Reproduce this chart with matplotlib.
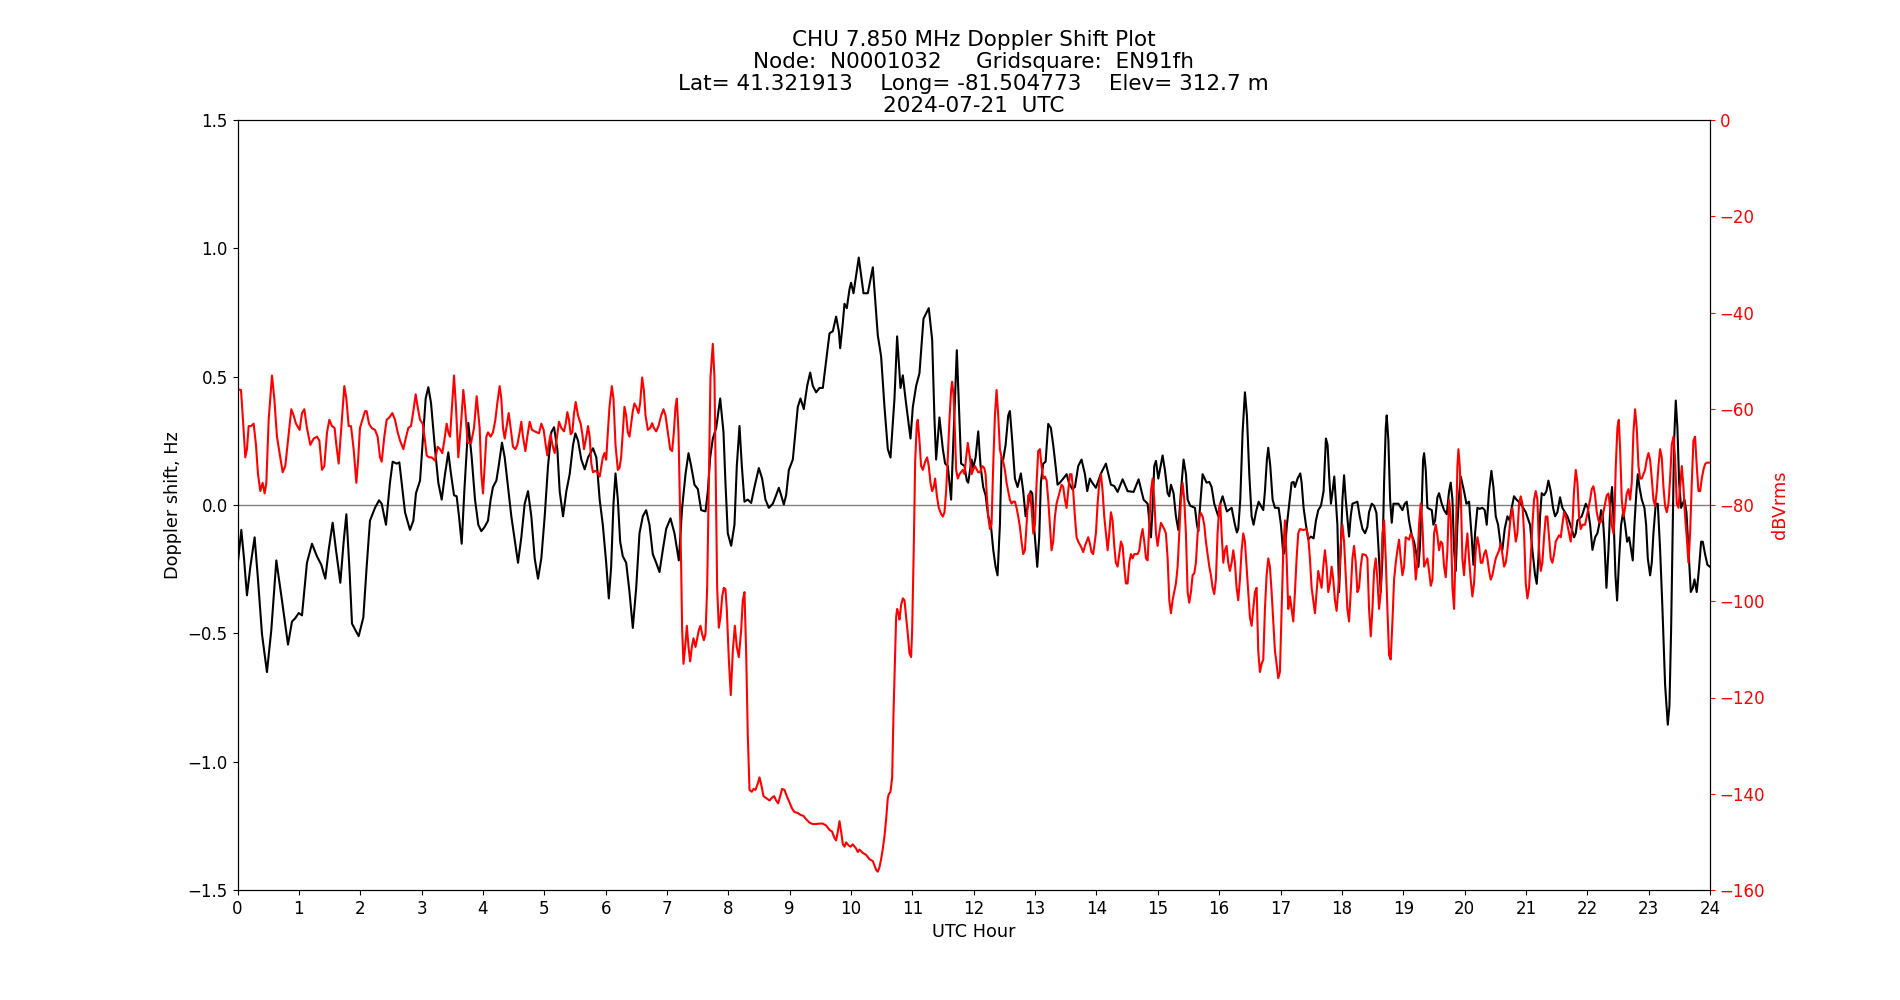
import matplotlib
matplotlib.use("Agg")
import matplotlib.pyplot as plt

# Doppler shift (Hz) vs UTC hour
doppler_hours = [
    0.0, 0.062, 0.106, 0.154, 0.209, 0.279, 0.334, 0.399, 0.480, 0.551, 0.633, 0.725, 0.823, 0.888, 0.942, 0.997,
    1.051, 1.132, 1.214, 1.295, 1.366, 1.431, 1.486, 1.551, 1.605, 1.676, 1.730, 1.774, 1.823, 1.866, 1.920, 1.975,
    2.051, 2.105, 2.159, 2.241, 2.306, 2.350, 2.420, 2.485, 2.529, 2.594, 2.638, 2.676, 2.730, 2.811, 2.866, 2.909,
    2.975, 3.029, 3.067, 3.110, 3.154, 3.219, 3.273, 3.328, 3.382, 3.436, 3.480, 3.529, 3.572, 3.610, 3.654, 3.697,
    3.762, 3.817, 3.871, 3.925, 3.974, 4.029, 4.083, 4.126, 4.164, 4.219, 4.257, 4.311, 4.355, 4.409, 4.463, 4.518,
    4.572, 4.626, 4.681, 4.735, 4.789, 4.844, 4.898, 4.952, 5.007, 5.061, 5.115, 5.159, 5.213, 5.251, 5.306, 5.360,
    5.414, 5.469, 5.507, 5.550, 5.604, 5.659, 5.713, 5.794, 5.849, 5.903, 5.954, 6.009, 6.052, 6.090, 6.128, 6.161,
    6.199, 6.237, 6.280, 6.335, 6.389, 6.443, 6.498, 6.552, 6.606, 6.661, 6.715, 6.769, 6.824, 6.878, 6.932, 6.987,
    7.057, 7.122, 7.193, 7.247, 7.302, 7.351, 7.394, 7.448, 7.503, 7.557, 7.628, 7.666, 7.704, 7.747, 7.802, 7.867,
    7.921, 7.953, 7.991, 8.046, 8.100, 8.138, 8.182, 8.220, 8.263, 8.317, 8.372, 8.426, 8.497, 8.551, 8.605, 8.660,
    8.725, 8.779, 8.823, 8.861, 8.904, 8.942, 8.986, 9.051, 9.094, 9.132, 9.176, 9.230, 9.285, 9.334, 9.377, 9.431,
    9.486, 9.540, 9.594, 9.649, 9.703, 9.757, 9.801, 9.823, 9.866, 9.893, 9.931, 9.975, 10.001, 10.040, 10.126, 10.203,
    10.273, 10.355, 10.436, 10.490, 10.545, 10.599, 10.643, 10.708, 10.751, 10.806, 10.844, 10.887, 10.969, 11.007, 11.061, 11.115,
    11.181, 11.267, 11.322, 11.360, 11.387, 11.441, 11.496, 11.534, 11.577, 11.631, 11.724, 11.767, 11.794, 11.849, 11.887, 11.910,
    11.964, 11.991, 12.030, 12.073, 12.111, 12.154, 12.193, 12.236, 12.279, 12.318, 12.356, 12.388, 12.426, 12.453, 12.480, 12.519,
    12.562, 12.589, 12.627, 12.671, 12.714, 12.768, 12.806, 12.845, 12.888, 12.926, 12.953, 12.986, 13.035, 13.067, 13.094, 13.132,
    13.171, 13.214, 13.257, 13.295, 13.334, 13.366, 13.404, 13.459, 13.513, 13.551, 13.605, 13.649, 13.703, 13.757, 13.812, 13.850,
    13.893, 13.931, 13.991, 14.073, 14.154, 14.236, 14.290, 14.345, 14.426, 14.508, 14.605, 14.687, 14.768, 14.834, 14.861, 14.888,
    14.915, 14.942, 14.970, 15.008, 15.078, 15.116, 15.160, 15.187, 15.214, 15.257, 15.295, 15.334, 15.377, 15.420, 15.459, 15.486,
    15.529, 15.605, 15.638, 15.660, 15.692, 15.730, 15.795, 15.839, 15.877, 15.920, 15.985, 16.018, 16.056, 16.126, 16.203, 16.257,
    16.289, 16.311, 16.344, 16.382, 16.420, 16.452, 16.491, 16.529, 16.561, 16.599, 16.643, 16.719, 16.746, 16.778, 16.800, 16.833,
    16.871, 16.909, 16.969, 17.007, 17.045, 17.072, 17.104, 17.142, 17.181, 17.213, 17.235, 17.278, 17.322, 17.344, 17.376, 17.414,
    17.452, 17.496, 17.539, 17.577, 17.615, 17.659, 17.702, 17.740, 17.767, 17.795, 17.822, 17.849, 17.876, 17.927, 17.954, 17.981,
    18.009, 18.036, 18.063, 18.117, 18.144, 18.172, 18.253, 18.291, 18.335, 18.378, 18.416, 18.443, 18.487, 18.525, 18.563, 18.595,
    18.633, 18.661, 18.688, 18.715, 18.731, 18.758, 18.786, 18.813, 18.840, 18.921, 18.987, 19.025, 19.057, 19.095, 19.139, 19.177,
    19.215, 19.247, 19.269, 19.302, 19.324, 19.340, 19.367, 19.394, 19.465, 19.492, 19.519, 19.557, 19.584, 19.628, 19.666, 19.709,
    19.747, 19.774, 19.802, 19.829, 19.856, 19.883, 19.910, 19.937, 19.991, 20.030, 20.073, 20.116, 20.144, 20.171, 20.209, 20.247,
    20.290, 20.328, 20.361, 20.399, 20.437, 20.470, 20.508, 20.546, 20.589, 20.616, 20.654, 20.698, 20.736, 20.768, 20.806, 20.845,
    20.915, 20.997, 21.067, 21.105, 21.149, 21.176, 21.203, 21.230, 21.257, 21.295, 21.334, 21.366, 21.404, 21.442, 21.475, 21.513,
    21.556, 21.594, 21.676, 21.747, 21.784, 21.812, 21.839, 21.910, 21.975, 22.008, 22.046, 22.084, 22.127, 22.165, 22.193, 22.225,
    22.252, 22.279, 22.312, 22.345, 22.377, 22.404, 22.432, 22.459, 22.486, 22.519, 22.551, 22.584, 22.616, 22.649, 22.682, 22.714,
    22.741, 22.768, 22.801, 22.823, 22.850, 22.888, 22.931, 22.959, 22.986, 23.024, 23.051, 23.078, 23.116, 23.149, 23.187, 23.225,
    23.268, 23.312, 23.339, 23.366, 23.393, 23.415, 23.442, 23.469, 23.497, 23.529, 23.556, 23.583, 23.616, 23.649, 23.687, 23.720,
    23.747, 23.784, 23.823, 23.855, 23.882, 23.920, 23.958, 24.0,
]
doppler_hz = [
    -0.24, -0.097, -0.208, -0.352, -0.241, -0.126, -0.290, -0.503, -0.651, -0.487, -0.216, -0.372, -0.544, -0.454, -0.441, -0.421,
    -0.430, -0.225, -0.151, -0.200, -0.233, -0.287, -0.175, -0.069, -0.175, -0.303, -0.143, -0.036, -0.241, -0.462, -0.487, -0.511,
    -0.438, -0.241, -0.061, -0.011, 0.018, 0.005, -0.077, 0.087, 0.169, 0.161, 0.166, 0.087, -0.028, -0.097, -0.061, 0.046,
    0.095, 0.284, 0.415, 0.459, 0.398, 0.218, 0.087, 0.021, 0.120, 0.205, 0.120, 0.038, 0.034, -0.044, -0.151, 0.054,
    0.320, 0.185, 0.021, -0.077, -0.102, -0.085, -0.061, 0.021, 0.070, 0.095, 0.152, 0.243, 0.185, 0.070, -0.044, -0.134,
    -0.225, -0.126, 0.005, 0.054, -0.044, -0.208, -0.287, -0.208, -0.044, 0.152, 0.284, 0.303, 0.218, 0.054, -0.044, 0.054,
    0.120, 0.234, 0.279, 0.251, 0.177, 0.139, 0.185, 0.221, 0.185, 0.021, -0.077, -0.225, -0.364, -0.241, 0.005, 0.123,
    0.021, -0.143, -0.200, -0.225, -0.339, -0.479, -0.323, -0.110, -0.044, -0.020, -0.077, -0.192, -0.225, -0.261, -0.175, -0.093,
    -0.052, -0.110, -0.216, -0.011, 0.120, 0.202, 0.152, 0.079, 0.062, -0.020, -0.025, 0.054, 0.185, 0.259, 0.300, 0.415,
    0.284, 0.087, -0.110, -0.159, -0.077, 0.152, 0.308, 0.152, 0.013, 0.021, 0.008, 0.070, 0.144, 0.103, 0.021, -0.011,
    0.005, 0.038, 0.067, 0.038, 0.002, 0.038, 0.136, 0.177, 0.284, 0.382, 0.415, 0.374, 0.464, 0.516, 0.464, 0.439,
    0.456, 0.456, 0.562, 0.669, 0.677, 0.734, 0.677, 0.611, 0.710, 0.784, 0.767, 0.841, 0.866, 0.825, 0.964, 0.825,
    0.825, 0.926, 0.661, 0.579, 0.382, 0.218, 0.185, 0.415, 0.657, 0.456, 0.505, 0.415, 0.259, 0.382, 0.464, 0.513,
    0.726, 0.767, 0.644, 0.333, 0.177, 0.341, 0.218, 0.161, 0.152, 0.021, 0.603, 0.333, 0.161, 0.152, 0.095, 0.087,
    0.177, 0.144, 0.185, 0.287, 0.152, 0.070, 0.038, -0.044, -0.077, -0.175, -0.241, -0.274, -0.077, 0.185, 0.177, 0.234,
    0.349, 0.366, 0.251, 0.103, 0.070, 0.123, 0.054, -0.044, 0.005, 0.054, 0.046, -0.093, -0.241, -0.126, 0.087, 0.161,
    0.169, 0.316, 0.300, 0.234, 0.152, 0.079, 0.087, 0.103, 0.120, 0.087, 0.062, 0.070, 0.152, 0.177, 0.120, 0.054,
    0.103, 0.087, 0.067, 0.123, 0.161, 0.079, 0.074, 0.051, 0.100, 0.054, 0.051, 0.100, 0.021, 0.005, -0.061, -0.126,
    -0.011, 0.152, 0.172, 0.103, 0.193, 0.136, 0.046, 0.034, 0.079, 0.046, -0.044, -0.097, 0.054, 0.177, 0.120, 0.021,
    -0.003, -0.011, -0.077, -0.102, 0.005, 0.120, 0.087, 0.090, 0.070, 0.005, -0.044, 0.005, 0.034, -0.025, -0.011, -0.077,
    -0.107, -0.093, 0.021, 0.284, 0.439, 0.349, 0.120, -0.044, -0.077, -0.028, 0.013, -0.020, 0.054, 0.177, 0.223, 0.152,
    0.021, -0.011, -0.011, -0.077, -0.192, -0.175, -0.077, 0.005, 0.087, 0.090, 0.070, 0.103, 0.123, 0.087, -0.011, -0.077,
    -0.134, -0.123, -0.130, -0.061, -0.020, -0.003, 0.054, 0.259, 0.234, 0.103, 0.005, 0.054, 0.111, -0.077, -0.339, -0.175,
    0.021, 0.116, 0.021, -0.123, -0.044, 0.005, 0.013, -0.044, -0.093, -0.110, -0.085, -0.028, 0.005, -0.003, -0.031, -0.159,
    -0.339, -0.208, 0.087, 0.300, 0.349, 0.251, 0.021, -0.069, 0.005, 0.005, -0.020, 0.005, 0.013, -0.061, -0.118, -0.143,
    -0.192, -0.241, -0.175, 0.005, 0.177, 0.202, 0.136, -0.011, -0.020, -0.077, -0.061, 0.030, 0.046, 0.005, -0.020, -0.036,
    0.054, 0.087, 0.021, -0.175, -0.257, -0.077, 0.038, 0.111, 0.054, 0.005, 0.013, -0.126, -0.233, -0.110, -0.011, -0.015,
    -0.011, -0.020, -0.077, 0.054, 0.133, 0.070, -0.044, -0.077, -0.159, -0.175, -0.093, -0.044, -0.061, -0.011, 0.034, 0.021,
    0.005, -0.028, -0.077, -0.175, -0.274, -0.307, -0.208, -0.044, 0.046, 0.038, 0.054, 0.095, 0.054, -0.011, -0.044, -0.028,
    0.030, -0.011, -0.044, -0.093, -0.126, -0.110, -0.061, -0.044, 0.005, -0.011, -0.077, -0.175, -0.126, -0.110, -0.077, -0.020,
    -0.044, -0.143, -0.323, -0.175, 0.005, 0.070, -0.077, -0.274, -0.372, -0.208, -0.077, -0.028, -0.077, -0.143, -0.126, -0.175,
    -0.216, -0.077, 0.054, 0.120, 0.070, 0.021, -0.011, -0.077, -0.208, -0.274, -0.225, -0.110, 0.005, 0.005, -0.175, -0.405,
    -0.700, -0.856, -0.782, -0.487, -0.077, 0.251, 0.407, 0.300, 0.087, -0.011, 0.005, 0.021, -0.028, -0.175, -0.339, -0.323,
    -0.290, -0.339, -0.241, -0.143, -0.143, -0.192, -0.233, -0.241,
]

# received signal level (dBVrms) vs UTC hour
power_hours = [
    0.0, 0.057, 0.089, 0.127, 0.154, 0.182, 0.220, 0.263, 0.301, 0.334, 0.372, 0.410, 0.442, 0.470, 0.508, 0.562,
    0.600, 0.643, 0.698, 0.736, 0.779, 0.823, 0.877, 0.915, 0.953, 1.013, 1.051, 1.089, 1.132, 1.187, 1.241, 1.295,
    1.334, 1.377, 1.415, 1.459, 1.497, 1.540, 1.583, 1.611, 1.649, 1.692, 1.741, 1.774, 1.812, 1.850, 1.893, 1.937,
    1.969, 1.996, 2.035, 2.078, 2.105, 2.143, 2.187, 2.241, 2.284, 2.323, 2.350, 2.393, 2.431, 2.475, 2.524, 2.567,
    2.611, 2.649, 2.703, 2.741, 2.784, 2.828, 2.866, 2.904, 2.936, 2.975, 3.018, 3.056, 3.083, 3.121, 3.165, 3.219,
    3.262, 3.300, 3.338, 3.371, 3.409, 3.436, 3.464, 3.491, 3.529, 3.561, 3.599, 3.643, 3.681, 3.708, 3.752, 3.806,
    3.855, 3.898, 3.947, 3.974, 4.001, 4.029, 4.056, 4.083, 4.126, 4.164, 4.203, 4.235, 4.273, 4.300, 4.327, 4.355,
    4.382, 4.420, 4.452, 4.490, 4.529, 4.561, 4.599, 4.626, 4.653, 4.692, 4.724, 4.762, 4.800, 4.844, 4.914, 4.952,
    4.990, 5.023, 5.050, 5.072, 5.104, 5.132, 5.170, 5.208, 5.240, 5.278, 5.322, 5.349, 5.376, 5.403, 5.430, 5.458,
    5.485, 5.512, 5.550, 5.593, 5.621, 5.648, 5.686, 5.713, 5.740, 5.767, 5.794, 5.833, 5.865, 5.903, 5.954, 5.982,
    6.009, 6.036, 6.063, 6.101, 6.128, 6.161, 6.199, 6.226, 6.253, 6.280, 6.307, 6.335, 6.362, 6.389, 6.416, 6.443,
    6.470, 6.498, 6.536, 6.563, 6.595, 6.623, 6.650, 6.688, 6.726, 6.758, 6.786, 6.824, 6.862, 6.905, 6.943, 6.976,
    7.014, 7.052, 7.084, 7.112, 7.139, 7.161, 7.188, 7.204, 7.231, 7.247, 7.269, 7.296, 7.324, 7.351, 7.378, 7.405,
    7.432, 7.465, 7.492, 7.519, 7.546, 7.573, 7.601, 7.628, 7.655, 7.682, 7.709, 7.747, 7.774, 7.796, 7.818, 7.845,
    7.872, 7.900, 7.927, 7.953, 7.975, 8.008, 8.040, 8.073, 8.106, 8.138, 8.171, 8.209, 8.236, 8.263, 8.290, 8.317,
    8.345, 8.383, 8.410, 8.442, 8.480, 8.508, 8.540, 8.573, 8.616, 8.671, 8.714, 8.747, 8.779, 8.812, 8.845, 8.877,
    8.915, 8.953, 8.997, 9.040, 9.078, 9.132, 9.176, 9.225, 9.268, 9.323, 9.377, 9.431, 9.486, 9.540, 9.594, 9.649,
    9.692, 9.730, 9.757, 9.784, 9.812, 9.839, 9.866, 9.893, 9.920, 9.958, 9.991, 10.029, 10.083, 10.110, 10.137, 10.192,
    10.246, 10.300, 10.355, 10.409, 10.436, 10.463, 10.490, 10.518, 10.545, 10.572, 10.599, 10.615, 10.643, 10.670, 10.692, 10.719,
    10.735, 10.751, 10.773, 10.789, 10.817, 10.844, 10.871, 10.898, 10.925, 10.952, 10.979, 10.996, 11.023, 11.045, 11.072, 11.088,
    11.115, 11.142, 11.170, 11.208, 11.240, 11.267, 11.295, 11.322, 11.349, 11.371, 11.398, 11.430, 11.469, 11.496, 11.523, 11.550,
    11.577, 11.604, 11.631, 11.648, 11.670, 11.691, 11.713, 11.740, 11.767, 11.822, 11.849, 11.876, 11.903, 11.937, 11.964, 11.991,
    12.019, 12.073, 12.100, 12.138, 12.171, 12.193, 12.209, 12.236, 12.263, 12.290, 12.317, 12.345, 12.372, 12.399, 12.426, 12.453,
    12.480, 12.508, 12.535, 12.562, 12.589, 12.616, 12.644, 12.671, 12.698, 12.725, 12.752, 12.779, 12.806, 12.834, 12.861, 12.888,
    12.915, 12.942, 12.970, 12.997, 13.024, 13.051, 13.078, 13.105, 13.132, 13.160, 13.187, 13.214, 13.241, 13.268, 13.295, 13.323,
    13.350, 13.377, 13.404, 13.431, 13.458, 13.486, 13.513, 13.540, 13.567, 13.594, 13.621, 13.649, 13.676, 13.703, 13.757, 13.784,
    13.812, 13.866, 13.893, 13.920, 13.947, 13.991, 14.019, 14.046, 14.073, 14.100, 14.127, 14.154, 14.182, 14.209, 14.236, 14.263,
    14.290, 14.317, 14.345, 14.372, 14.399, 14.426, 14.453, 14.480, 14.508, 14.535, 14.562, 14.589, 14.616, 14.671, 14.698, 14.725,
    14.752, 14.779, 14.807, 14.834, 14.861, 14.888, 14.915, 14.942, 14.970, 14.997, 15.024, 15.051, 15.105, 15.132, 15.160, 15.187,
    15.214, 15.241, 15.268, 15.295, 15.323, 15.350, 15.377, 15.404, 15.431, 15.458, 15.486, 15.513, 15.540, 15.567, 15.594, 15.621,
    15.649, 15.676, 15.703, 15.730, 15.757, 15.784, 15.812, 15.839, 15.866, 15.893, 15.920, 15.947, 15.974, 16.001, 16.018, 16.040,
    16.067, 16.094, 16.121, 16.148, 16.175, 16.203, 16.230, 16.257, 16.284, 16.311, 16.338, 16.366, 16.393, 16.420, 16.447, 16.474,
    16.501, 16.529, 16.556, 16.583, 16.610, 16.637, 16.664, 16.692, 16.719, 16.746, 16.773, 16.800, 16.827, 16.855, 16.882, 16.909,
    16.936, 16.963, 16.990, 17.018, 17.045, 17.072, 17.099, 17.126, 17.153, 17.181, 17.208, 17.235, 17.262, 17.289, 17.316, 17.371,
    17.425, 17.452, 17.479, 17.507, 17.534, 17.561, 17.588, 17.615, 17.642, 17.670, 17.697, 17.724, 17.751, 17.778, 17.805, 17.833,
    17.860, 17.887, 17.914, 17.954, 17.981, 18.009, 18.036, 18.063, 18.090, 18.117, 18.144, 18.172, 18.199, 18.226, 18.253, 18.280,
    18.307, 18.335, 18.389, 18.416, 18.443, 18.471, 18.498, 18.525, 18.552, 18.579, 18.606, 18.633, 18.661, 18.688, 18.715, 18.742,
    18.769, 18.796, 18.824, 18.851, 18.878, 18.905, 18.932, 18.959, 18.987, 19.014, 19.041, 19.095, 19.122, 19.150, 19.177, 19.204,
    19.231, 19.258, 19.285, 19.313, 19.340, 19.367, 19.394, 19.421, 19.449, 19.476, 19.503, 19.530, 19.557, 19.584, 19.612, 19.639,
    19.666, 19.693, 19.720, 19.747, 19.774, 19.802, 19.829, 19.856, 19.883, 19.900, 19.921, 19.937, 19.964, 19.991, 20.019, 20.046,
    20.073, 20.100, 20.127, 20.154, 20.182, 20.209, 20.236, 20.263, 20.290, 20.317, 20.345, 20.372, 20.399, 20.426, 20.453, 20.480,
    20.508, 20.562, 20.589, 20.616, 20.644, 20.671, 20.698, 20.725, 20.752, 20.779, 20.807, 20.834, 20.861, 20.888, 20.915, 20.942,
    20.970, 20.997, 21.024, 21.051, 21.078, 21.105, 21.132, 21.160, 21.187, 21.214, 21.241, 21.268, 21.295, 21.323, 21.350, 21.377,
    21.404, 21.431, 21.459, 21.486, 21.540, 21.567, 21.594, 21.621, 21.649, 21.676, 21.703, 21.730, 21.757, 21.784, 21.812, 21.839,
    21.866, 21.893, 21.921, 21.964, 22.019, 22.046, 22.073, 22.100, 22.127, 22.154, 22.182, 22.209, 22.236, 22.263, 22.290, 22.317,
    22.345, 22.372, 22.399, 22.426, 22.442, 22.464, 22.491, 22.513, 22.535, 22.562, 22.589, 22.616, 22.643, 22.671, 22.698, 22.725,
    22.752, 22.779, 22.806, 22.834, 22.861, 22.888, 22.942, 22.969, 22.997, 23.024, 23.051, 23.078, 23.105, 23.132, 23.160, 23.187,
    23.214, 23.241, 23.268, 23.295, 23.323, 23.350, 23.377, 23.404, 23.431, 23.458, 23.486, 23.513, 23.540, 23.567, 23.594, 23.621,
    23.649, 23.676, 23.703, 23.730, 23.757, 23.784, 23.812, 23.839, 23.866, 23.893, 23.920, 23.947, 24.0,
]
power_db = [
    -56.0, -56.1, -62.3, -70.1, -68.4, -63.6, -63.6, -63.1, -67.5, -73.6, -77.1, -75.4, -77.6, -75.4, -62.3, -53.1,
    -57.9, -65.8, -70.1, -73.2, -71.9, -66.6, -60.1, -61.4, -63.1, -64.4, -60.9, -60.1, -64.0, -67.5, -66.2, -65.8,
    -66.6, -72.7, -71.9, -64.9, -62.3, -63.6, -64.0, -67.5, -71.4, -64.0, -55.3, -57.9, -63.6, -63.6, -68.4, -75.4,
    -70.1, -64.0, -62.3, -60.5, -60.5, -63.1, -64.0, -64.4, -65.8, -70.1, -71.0, -65.8, -62.3, -61.8, -60.9, -62.3,
    -64.9, -66.6, -68.4, -66.2, -64.0, -63.6, -60.5, -57.0, -59.6, -62.3, -63.1, -66.6, -69.7, -70.1, -70.1, -70.8,
    -67.9, -68.4, -69.2, -66.6, -63.1, -64.9, -65.8, -60.5, -53.1, -59.6, -70.1, -63.1, -56.1, -59.6, -67.1, -67.1,
    -64.0, -57.4, -64.0, -73.6, -77.6, -71.9, -65.8, -64.9, -65.8, -64.9, -62.3, -58.8, -55.3, -57.9, -64.0, -66.2,
    -64.0, -60.9, -64.0, -67.9, -68.4, -67.5, -64.9, -62.7, -65.8, -68.8, -65.8, -62.7, -64.4, -64.7, -65.1, -63.1,
    -64.4, -67.5, -69.7, -67.5, -65.3, -67.5, -69.2, -65.8, -62.7, -64.0, -64.7, -63.1, -60.7, -62.3, -65.3, -64.9,
    -60.9, -58.6, -61.4, -63.1, -65.3, -68.4, -65.8, -63.6, -65.8, -71.4, -73.2, -72.9, -73.2, -74.1, -70.1, -69.2,
    -70.6, -64.9, -59.6, -55.3, -57.9, -67.5, -72.7, -72.3, -70.1, -64.9, -59.6, -61.4, -64.9, -65.8, -63.1, -60.5,
    -58.9, -59.6, -60.9, -58.8, -53.5, -56.1, -61.4, -64.4, -64.0, -63.0, -64.0, -64.7, -63.6, -61.4, -60.1, -61.4,
    -64.9, -68.4, -68.8, -64.9, -59.6, -57.9, -64.9, -75.4, -92.8, -105.9, -113.0, -109.5, -105.1, -109.5, -112.5, -109.5,
    -107.7, -109.5, -107.7, -106.0, -105.1, -106.8, -108.1, -106.8, -97.2, -75.4, -53.5, -46.5, -53.5, -75.4, -97.2, -105.5,
    -103.3, -99.0, -97.2, -97.5, -101.6, -112.1, -119.5, -110.3, -105.1, -109.5, -111.6, -106.0, -99.8, -98.1, -110.3, -127.8,
    -139.2, -139.6, -139.0, -139.2, -137.9, -136.6, -138.3, -140.5, -140.9, -141.4, -140.8, -140.5, -141.4, -142.0, -140.5, -139.0,
    -139.2, -140.5, -141.8, -143.1, -143.8, -144.0, -144.4, -144.6, -145.3, -146.0, -146.3, -146.3, -146.2, -146.2, -146.6, -147.5,
    -147.9, -149.2, -149.7, -147.9, -145.7, -147.9, -150.5, -151.0, -150.1, -150.7, -151.0, -150.5, -151.4, -152.1, -151.6, -152.3,
    -152.7, -153.6, -154.0, -155.8, -156.2, -155.3, -153.6, -151.4, -148.8, -145.3, -140.9, -140.1, -139.6, -136.6, -123.4, -110.3,
    -103.3, -101.6, -102.5, -103.8, -100.7, -99.4, -99.8, -103.3, -106.8, -110.8, -111.6, -106.0, -88.5, -71.0, -63.1, -62.3,
    -66.6, -71.9, -72.7, -71.0, -70.1, -71.9, -75.4, -77.1, -76.2, -74.5, -78.0, -80.6, -81.9, -82.4, -81.5, -77.1,
    -70.1, -62.3, -56.1, -54.4, -57.0, -64.0, -72.7, -74.5, -73.6, -72.7, -73.6, -70.1, -67.1, -70.1, -73.6, -72.7,
    -71.9, -73.2, -73.2, -71.9, -72.3, -73.6, -77.1, -82.4, -85.0, -84.1, -71.9, -61.4, -56.1, -61.4, -68.4, -70.1,
    -71.0, -72.7, -75.4, -77.1, -78.9, -79.7, -79.3, -79.3, -80.6, -82.4, -84.5, -87.6, -90.2, -89.4, -84.1, -78.0,
    -77.6, -80.6, -85.9, -84.1, -75.4, -68.8, -68.4, -71.9, -74.5, -74.1, -74.9, -78.9, -84.1, -89.4, -87.6, -82.4,
    -79.7, -78.4, -77.1, -75.8, -76.2, -78.9, -80.6, -77.1, -73.6, -73.6, -77.1, -82.4, -86.7, -87.6, -88.9, -89.8,
    -88.5, -86.7, -88.0, -89.8, -90.2, -85.9, -79.7, -75.4, -73.6, -77.1, -82.4, -85.9, -89.4, -85.9, -81.5, -83.2,
    -88.5, -92.0, -92.8, -90.2, -87.6, -88.5, -92.8, -96.3, -96.3, -92.0, -90.2, -91.1, -90.2, -90.2, -89.4, -86.7,
    -85.0, -87.6, -91.1, -91.5, -84.1, -77.1, -74.5, -78.9, -85.9, -88.5, -85.9, -83.7, -85.0, -85.9, -91.1, -99.8,
    -102.5, -99.8, -98.1, -96.3, -92.8, -85.9, -78.9, -75.4, -78.9, -85.9, -98.1, -100.3, -98.1, -94.6, -94.2, -92.0,
    -85.9, -82.4, -81.7, -82.4, -84.1, -87.6, -90.2, -92.8, -94.6, -97.2, -98.5, -95.5, -85.9, -80.6, -79.7, -85.9,
    -92.0, -89.4, -88.5, -92.0, -93.7, -92.0, -89.4, -92.0, -97.2, -99.8, -95.5, -89.4, -85.9, -87.6, -92.8, -98.1,
    -103.3, -105.1, -101.6, -98.1, -97.2, -110.3, -114.7, -113.0, -112.1, -101.6, -94.6, -91.1, -92.8, -98.1, -104.2, -110.3,
    -113.0, -116.0, -114.7, -101.6, -89.4, -83.2, -91.1, -101.6, -99.0, -101.6, -104.2, -98.1, -91.1, -85.9, -85.0, -85.2,
    -85.0, -86.7, -91.1, -97.2, -99.8, -102.5, -98.1, -93.7, -95.5, -97.2, -92.8, -89.4, -92.8, -98.1, -96.3, -92.8,
    -95.5, -99.8, -102.0, -95.5, -88.5, -84.1, -87.6, -94.6, -101.6, -104.2, -98.1, -91.1, -88.5, -92.0, -98.1, -97.2,
    -92.8, -90.2, -90.4, -91.1, -101.6, -107.3, -101.6, -93.7, -91.1, -95.5, -101.6, -98.1, -85.9, -83.2, -91.1, -101.6,
    -111.2, -112.1, -104.2, -95.5, -92.0, -89.4, -87.2, -91.1, -94.6, -92.8, -86.7, -87.2, -85.9, -86.7, -89.4, -95.5,
    -92.0, -84.1, -79.7, -84.1, -92.8, -92.0, -91.1, -93.7, -96.8, -95.5, -85.9, -84.1, -86.3, -89.4, -87.6, -88.0,
    -92.8, -95.0, -89.4, -78.9, -82.4, -97.2, -101.6, -87.6, -71.9, -68.4, -71.9, -77.1, -91.1, -94.6, -89.4, -85.9,
    -91.1, -95.5, -99.0, -96.3, -89.4, -86.7, -88.5, -92.0, -92.0, -90.2, -89.4, -91.1, -93.7, -95.5, -94.6, -92.8,
    -91.1, -89.4, -88.0, -90.2, -92.8, -92.0, -89.4, -85.9, -82.4, -80.6, -84.1, -87.6, -85.9, -79.7, -78.2, -79.7,
    -85.9, -96.3, -99.4, -97.2, -91.1, -84.1, -78.9, -77.1, -78.9, -89.4, -93.7, -92.0, -86.7, -82.4, -82.4, -86.7,
    -91.1, -92.0, -90.2, -87.6, -86.3, -86.7, -84.1, -81.5, -82.4, -84.1, -85.9, -87.6, -84.1, -77.1, -72.7, -75.4,
    -82.4, -85.0, -84.1, -84.1, -80.6, -78.9, -76.7, -76.1, -78.0, -81.5, -83.2, -83.7, -83.2, -81.5, -79.7, -78.0,
    -77.6, -80.6, -84.1, -85.9, -83.2, -71.9, -64.0, -62.3, -68.4, -78.9, -82.4, -80.6, -77.6, -76.7, -78.9, -75.4,
    -64.9, -60.1, -64.0, -71.9, -74.5, -74.5, -72.7, -70.6, -69.2, -70.6, -74.5, -78.9, -80.2, -77.1, -71.9, -68.4,
    -70.1, -76.2, -80.2, -81.5, -79.7, -74.5, -67.5, -65.8, -70.1, -79.7, -80.6, -76.2, -71.9, -76.2, -82.4, -86.7,
    -92.0, -85.9, -75.4, -66.6, -65.8, -71.9, -77.1, -77.1, -74.5, -72.7, -71.5, -71.2, -71.2,
]

title = ("CHU 7.850 MHz Doppler Shift Plot\n"
         "Node:  N0001032     Gridsquare:  EN91fh\n"
         "Lat= 41.321913    Long= -81.504773    Elev= 312.7 m\n"
         "2024-07-21  UTC")

fig, ax1 = plt.subplots(figsize=(19, 10), dpi=100)
ax1.axhline(0, color='gray', linewidth=1)
ax1.plot(doppler_hours, doppler_hz, color='black', linewidth=1.5)
ax1.set_xlim(0, 24)
ax1.set_ylim(-1.5, 1.5)
ax1.set_xticks(range(0, 25))
ax1.set_yticks([-1.5, -1.0, -0.5, 0.0, 0.5, 1.0, 1.5])
ax1.tick_params(labelsize=12)
ax1.set_xlabel('UTC Hour', fontsize=12.7)
ax1.set_ylabel('Doppler shift, Hz', fontsize=12.7)
ax1.set_title(title, fontsize=15.5, linespacing=1.12)

ax2 = ax1.twinx()
ax2.plot(power_hours, power_db, color='red', linewidth=1.5)
ax2.set_ylim(-160, 0)
ax2.set_yticks(range(-160, 1, 20))
ax2.tick_params(axis='y', colors='red', labelsize=12)
ax2.set_ylabel('dBVrms', color='red', fontsize=12.7)

fig.savefig('out.png', dpi=100)
